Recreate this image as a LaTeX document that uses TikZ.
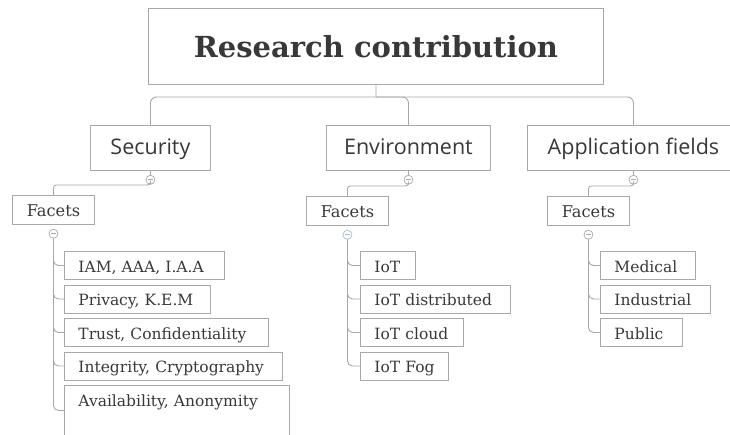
\documentclass[tikz,border=0pt]{standalone}
\usepackage{fontspec}
\setmainfont{DejaVu Serif}
\setsansfont{Open Sans}
\usetikzlibrary{positioning}
\definecolor{boxgray}{HTML}{A8A8A8}
\definecolor{txtgray}{HTML}{383838}
\definecolor{togblue}{HTML}{A9BCD8}

\begin{document}
\begin{tikzpicture}[x=1pt,y=-1pt]
  \tikzset{rootbox/.style = {draw=boxgray,line width=0.9pt,anchor=north west,minimum width=455pt,inner sep=0pt,text height=49pt,text depth=27pt,font=\fontsize{29}{33}\selectfont\bfseries,text=txtgray}}
  \tikzset{topic/.style = {draw=boxgray,line width=0.9pt,anchor=north west,inner sep=0pt,text height=29pt,text depth=16pt,font=\sffamily\fontsize{21.5}{25}\selectfont,text=txtgray}}
  \tikzset{facet/.style = {draw=boxgray,line width=0.9pt,anchor=north west,minimum width=82pt,inner sep=0pt,text height=21pt,text depth=8pt,font=\fontsize{16.2}{19}\selectfont,text=txtgray}}
  \tikzset{leaf/.style = {draw=boxgray,line width=0.9pt,anchor=north west,inner xsep=14pt,inner ysep=0pt,text width=#1,align=left,text height=21pt,text depth=7pt,font=\fontsize{15.5}{19}\selectfont,text=txtgray,execute at begin node=\hbox\bgroup,execute at end node=\egroup}}
  \tikzset{toggle/.style = {shape=circle,draw=boxgray,fill=white,line width=0.7pt,minimum size=9pt,inner sep=0pt}}
  \tikzset{link/.style = {draw=boxgray,line width=0.9pt,rounded corners=6pt}}

  \clip (0,0) rectangle (730,434);

  \node[rootbox] (root) at (148,8) {Research contribution};

  \node[topic,minimum width=120pt] (sec) at (90,125) {Security};
  \node[topic,minimum width=164pt] (env) at (326,125) {Environment};
  \node[topic,minimum width=212pt] (app) at (527,125) {Application fields};

  \node[toggle,below=4pt of sec] (secT) {};
  \node[toggle,below=4pt of env] (envT) {};
  \node[toggle,below=4pt of app] (appT) {};

  \node[facet] (secF) at (12,195) {Facets};
  \node[facet] (envF) at (306,196) {Facets};
  \node[facet] (appF) at (547,196) {Facets};

  \node[toggle,below=4pt of secF] (secFT) {};
  \node[toggle,below=4pt of envF,draw=togblue] (envFT) {};
  \node[toggle,below=4pt of appF] (appFT) {};

  \node[leaf=132pt] (iam) at (64,251) {IAM, AAA, I.A.A};
  \node[leaf=118pt] (priv) at (64,284.5) {Privacy, K.E.M};
  \node[leaf=176pt] (trust) at (64,318) {Trust, Confidentiality};
  \node[leaf=190pt] (integ) at (64,351.5) {Integrity, Cryptography};
  \node[leaf=197pt,text depth=29pt] (avail) at (64,385) {Availability, Anonymity};

  \node[leaf=27pt] (iot) at (360,251) {IoT};
  \node[leaf=122pt] (iotdist) at (360,284.5) {IoT distributed};
  \node[leaf=75pt] (iotcloud) at (360,318) {IoT cloud};
  \node[leaf=60pt] (iotfog) at (360,351.5) {IoT Fog};

  \node[leaf=67pt] (med) at (600,251) {Medical};
  \node[leaf=82pt] (ind) at (600,284.5) {Industrial};
  \node[leaf=54pt] (pub) at (600,318) {Public};

  \coordinate (hub) at (376,97);
  \draw[link] (root.south) -- (hub);
  \foreach \to in {sec,env,app}
    \draw[link] (hub) -| (\to.north);

  \foreach \from/\to in {sec/secT,env/envT,app/appT}
    \draw[link] (\from.south) -- (\to.north);
  \foreach \from/\to in {secT/secF,envT/envF,appT/appF}
    \draw[link,rounded corners=3pt] (\to.north) -- ++(0,-10) -| (\from.south);
  \foreach \from/\to in {secFT/iam,secFT/priv,secFT/trust,secFT/integ,secFT/avail,envFT/iot,envFT/iotdist,envFT/iotcloud,envFT/iotfog,appFT/med,appFT/ind,appFT/pub}
    \draw[link,rounded corners=5pt] (\from.south) |- (\to.west);

  \foreach \t in {secT,envT,appT,secFT,appFT}
    \draw[boxgray,line width=0.7pt] ([xshift=-2.3pt]\t.center) -- ([xshift=2.3pt]\t.center);
  \draw[togblue,line width=0.7pt] ([xshift=-2.3pt]envFT.center) -- ([xshift=2.3pt]envFT.center);
\end{tikzpicture}
\end{document}
